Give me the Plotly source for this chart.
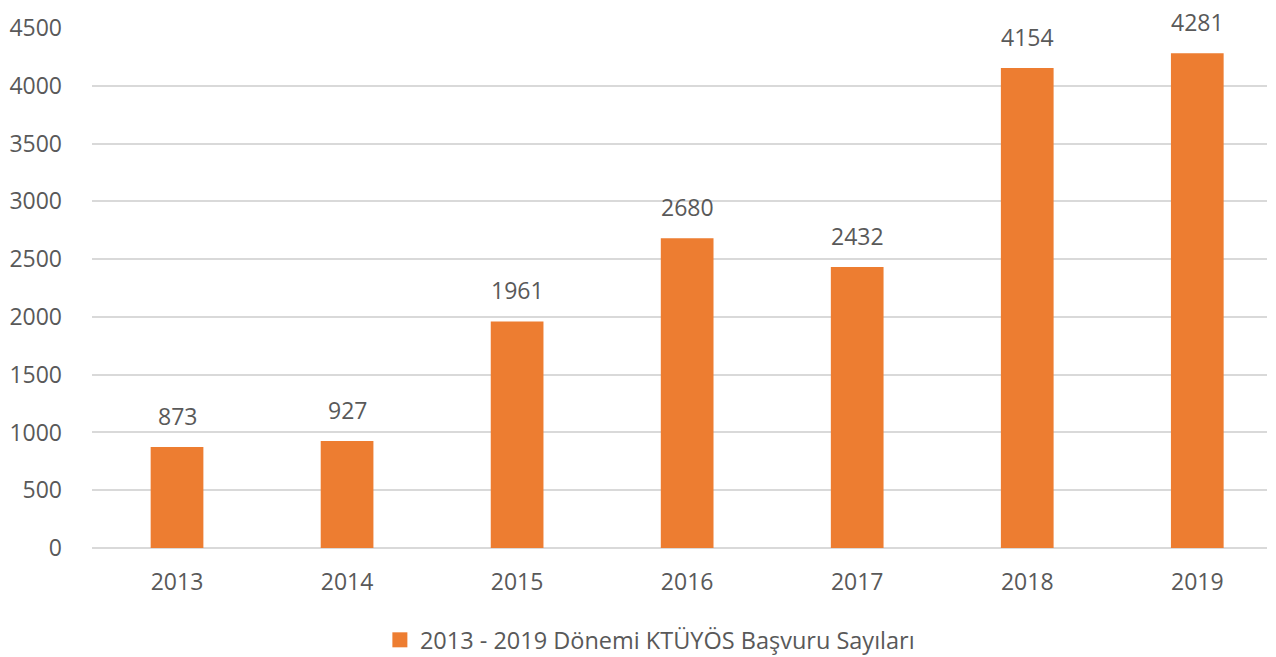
import plotly.graph_objects as go

years = ["2013", "2014", "2015", "2016", "2017", "2018", "2019"]
values = [873, 927, 1961, 2680, 2432, 4154, 4281]
series_name = "2013 - 2019 Dönemi KTÜYÖS Başvuru Sayıları"
y_ticks = [0, 500, 1000, 1500, 2000, 2500, 3000, 3500, 4000, 4500]

text_color = "#595959"
bar_color = "#ED7D31"
font_family = "Open Sans, Noto Sans, sans-serif"
fs = 23

fig = go.Figure()
fig.add_trace(go.Bar(
    x=list(range(len(years))), y=values, name=series_name,
    marker=dict(color=bar_color, line=dict(width=0)),
    width=0.31, showlegend=False,
))
# legend entry with a larger square symbol
fig.add_trace(go.Scatter(
    x=[None], y=[None], mode="markers", name=series_name,
    marker=dict(symbol="square", size=15, color=bar_color),
    showlegend=True,
))

for i, v in enumerate(values):
    fig.add_annotation(x=i, y=v, text=str(v), showarrow=False,
                       yshift=31, yanchor="middle",
                       font=dict(size=fs, color=text_color, family=font_family))

fig.update_layout(
    width=1276, height=657,
    margin=dict(l=92, r=9, t=28, b=109, autoexpand=False),
    plot_bgcolor="white", paper_bgcolor="white",
    font=dict(family=font_family, size=fs, color=text_color),
    xaxis=dict(
        range=[-0.5, 6.41], automargin=False,
        tickmode="array", tickvals=list(range(len(years))), ticktext=years,
        showgrid=False, zeroline=False, showline=False,
        ticklabelstandoff=18,
        tickfont=dict(size=fs, color=text_color),
    ),
    yaxis=dict(
        range=[0, 4500], tickmode="array", tickvals=y_ticks, automargin=False,
        showgrid=True, gridcolor="#D9D9D9", gridwidth=1.5,
        zeroline=True, zerolinecolor="#D9D9D9", zerolinewidth=1.5,
        showline=False, ticklabelstandoff=29,
        tickfont=dict(size=fs, color=text_color),
    ),
    legend=dict(orientation="h", x=0.245, xanchor="left", y=-0.177, yanchor="middle",
                font=dict(size=23.5, color=text_color), itemwidth=30),
    hovermode=False,
)

fig.write_html(
    "out.html",
    config={"displayModeBar": False},
    post_script="document.body.style.margin='0';document.body.style.overflow='hidden';",
)
